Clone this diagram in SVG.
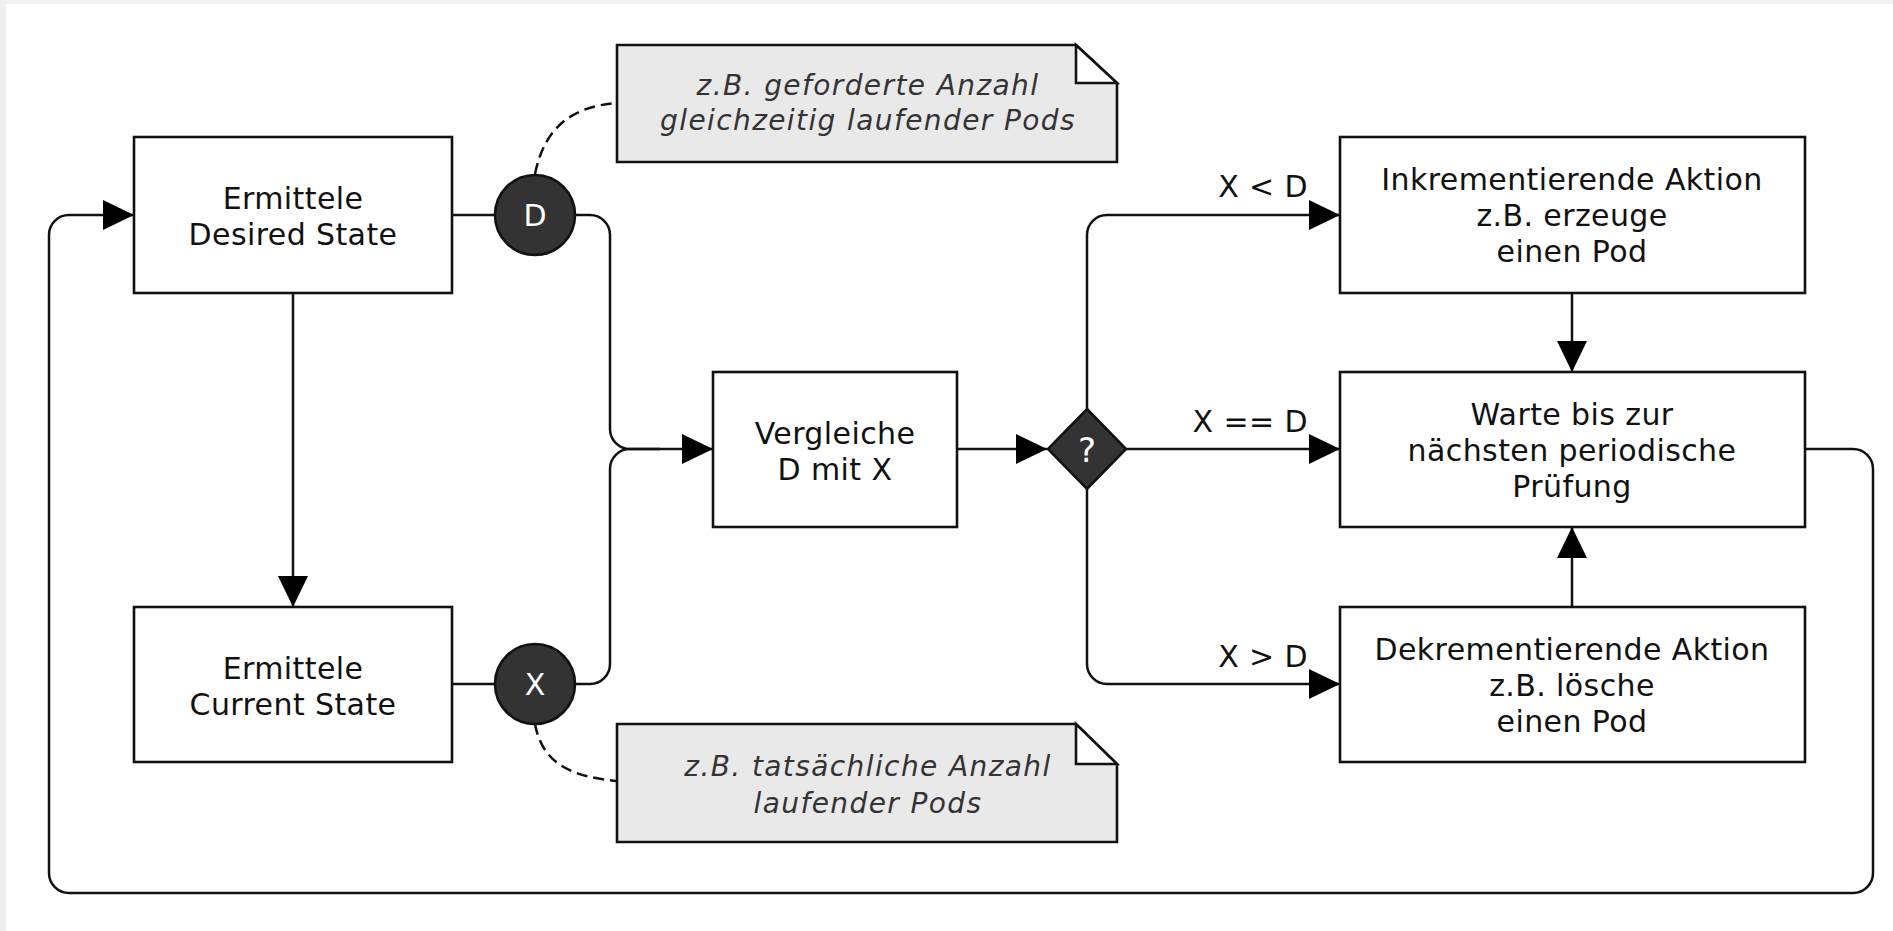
<svg xmlns="http://www.w3.org/2000/svg" width="1893" height="931" viewBox="0 0 1893 931">
  <style>
    .box { fill: #ffffff; stroke: #111111; stroke-width: 2.6; }
    .lbl { font-family: "DejaVu Sans", "Liberation Sans", sans-serif; font-size: 30px; letter-spacing: 0.4px; fill: #111111; text-anchor: middle; }
    .edge-lbl { font-family: "DejaVu Sans", "Liberation Sans", sans-serif; font-size: 30px; letter-spacing: 0.4px; fill: #111111; text-anchor: end; }
    .note { fill: #e9e9e9; stroke: #111111; stroke-width: 2.6; stroke-linejoin: miter; }
    .fold { fill: #ffffff; stroke: #111111; stroke-width: 2.6; }
    .note-txt { font-family: "DejaVu Sans", "Liberation Sans", sans-serif; font-style: italic; font-size: 28px; letter-spacing: 1.4px; fill: #333333; text-anchor: middle; }
    .token { fill: #333333; stroke: #111111; stroke-width: 2.6; }
    .token-txt { font-family: "DejaVu Sans", "Liberation Sans", sans-serif; font-size: 30px; fill: #ffffff; text-anchor: middle; }
    .wire { fill: none; stroke: #111111; stroke-width: 2.5; }
    .dash { fill: none; stroke: #111111; stroke-width: 2.5; stroke-dasharray: 11 6; }
  </style>
  <defs>
    <marker id="arrow" markerUnits="userSpaceOnUse" markerWidth="32" markerHeight="32" refX="31" refY="15" orient="auto">
      <path d="M0,0 L31,15 L0,30 Z" fill="#000000"/>
    </marker>
  </defs>

  <!-- canvas -->
  <rect x="0" y="0" width="1893" height="931" fill="#f0f0f0"/>
  <rect x="6" y="4" width="1887" height="927" fill="#ffffff"/>

  <!-- connectors -->
  <g id="connectors">
    <path class="wire" d="M1805,449 H1853 A20,20 0 0 1 1873,469 V873 A20,20 0 0 1 1853,893 H69 A20,20 0 0 1 49,873 V235 A20,20 0 0 1 69,215 H134" marker-end="url(#arrow)"/>
    <path class="wire" d="M293,293 V607" marker-end="url(#arrow)"/>
    <path class="wire" d="M452,215 H495"/>
    <path class="wire" d="M452,684 H495"/>
    <path class="wire" d="M575,215 H590 A20,20 0 0 1 610,235 V429 A20,20 0 0 0 630,449 H713" marker-end="url(#arrow)"/>
    <path class="wire" d="M573,684 H590 A20,20 0 0 0 610,664 V469 A20,20 0 0 1 630,449 H660"/>
    <path class="wire" d="M957,449 H1047" marker-end="url(#arrow)"/>
    <path class="wire" d="M1087,409 V235 A20,20 0 0 1 1107,215 H1340" marker-end="url(#arrow)"/>
    <path class="wire" d="M1126,449 H1340" marker-end="url(#arrow)"/>
    <path class="wire" d="M1087,489 V664 A20,20 0 0 0 1107,684 H1340" marker-end="url(#arrow)"/>
    <path class="wire" d="M1572,293 V372" marker-end="url(#arrow)"/>
    <path class="wire" d="M1572,607 V527" marker-end="url(#arrow)"/>
    <path class="dash" d="M535,174 C545,124 576,106 617,103"/>
    <path class="dash" d="M535,724 C543,768 578,777 617,781"/>
    <text class="edge-lbl" x="1308" y="197">X &lt; D</text>
    <text class="edge-lbl" x="1308" y="432">X == D</text>
    <text class="edge-lbl" x="1308" y="667">X &gt; D</text>
  </g>

  <g id="desired-state">
    <rect class="box" x="134" y="137" width="318" height="156"/>
    <text class="lbl" x="293" y="209">Ermittele</text>
    <text class="lbl" x="293" y="245">Desired State</text>
  </g>

  <g id="current-state">
    <rect class="box" x="134" y="607" width="318" height="155"/>
    <text class="lbl" x="293" y="679">Ermittele</text>
    <text class="lbl" x="293" y="715">Current State</text>
  </g>

  <g id="token-d">
    <circle class="token" cx="535" cy="215" r="40"/>
    <text class="token-txt" x="535" y="226">D</text>
  </g>

  <g id="token-x">
    <circle class="token" cx="535" cy="684" r="40"/>
    <text class="token-txt" x="535" y="695">X</text>
  </g>

  <g id="note-desired">
    <path class="note" d="M617,45 H1076 L1117,83 V162 H617 Z"/>
    <path class="fold" d="M1076,45 V83 H1117 Z"/>
    <text class="note-txt" x="868" y="95">z.B. geforderte Anzahl</text>
    <text class="note-txt" x="868" y="130">gleichzeitig laufender Pods</text>
  </g>

  <g id="note-current">
    <path class="note" d="M617,724 H1076 L1117,764 V842 H617 Z"/>
    <path class="fold" d="M1076,724 V764 H1117 Z"/>
    <text class="note-txt" x="868" y="776">z.B. tatsächliche Anzahl</text>
    <text class="note-txt" x="868" y="813">laufender Pods</text>
  </g>

  <g id="compare">
    <rect class="box" x="713" y="372" width="244" height="155"/>
    <text class="lbl" x="835" y="444">Vergleiche</text>
    <text class="lbl" x="835" y="480">D mit X</text>
  </g>

  <g id="decision">
    <polygon class="token" points="1087,409 1126,449 1087,489 1048,449"/>
    <text class="token-txt" x="1087" y="462" style="font-size:34px">?</text>
  </g>

  <g id="increment">
    <rect class="box" x="1340" y="137" width="465" height="156"/>
    <text class="lbl" x="1572" y="190">Inkrementierende Aktion</text>
    <text class="lbl" x="1572" y="226">z.B. erzeuge</text>
    <text class="lbl" x="1572" y="262">einen Pod</text>
  </g>

  <g id="wait">
    <rect class="box" x="1340" y="372" width="465" height="155"/>
    <text class="lbl" x="1572" y="425">Warte bis zur</text>
    <text class="lbl" x="1572" y="461">nächsten periodische</text>
    <text class="lbl" x="1572" y="497">Prüfung</text>
  </g>

  <g id="decrement">
    <rect class="box" x="1340" y="607" width="465" height="155"/>
    <text class="lbl" x="1572" y="660">Dekrementierende Aktion</text>
    <text class="lbl" x="1572" y="696">z.B. lösche</text>
    <text class="lbl" x="1572" y="732">einen Pod</text>
  </g>
</svg>
